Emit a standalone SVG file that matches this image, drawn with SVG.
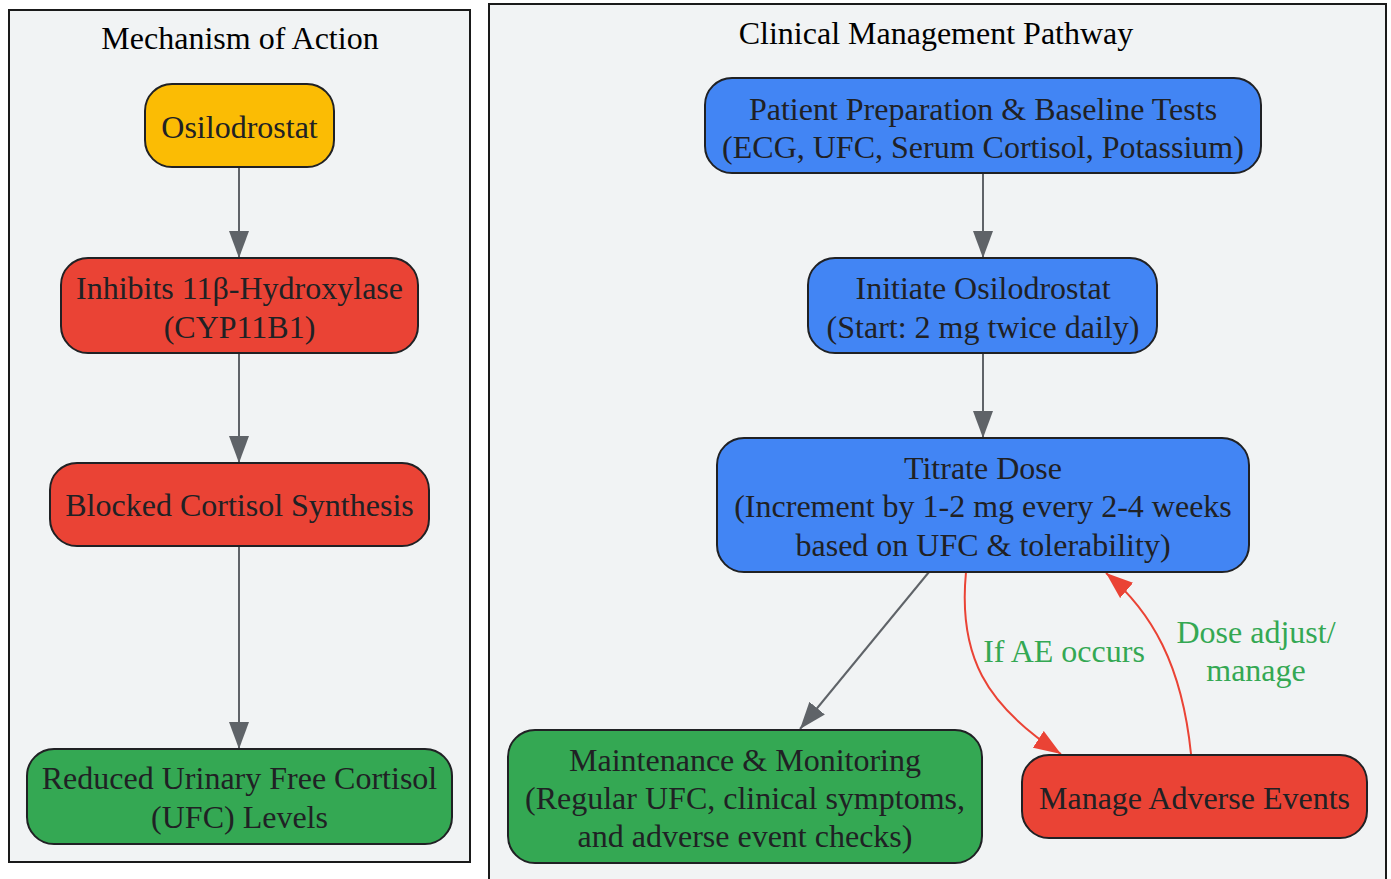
<svg xmlns="http://www.w3.org/2000/svg" width="1391" height="879" viewBox="0 0 1391 879">
<style>
text{font-family:"Liberation Serif","Times New Roman",serif;font-size:32px;text-anchor:middle}
.cl{fill:#f1f3f4;stroke:#1a1a1a;stroke-width:2}
.ttl{fill:#000}
.n{stroke:#202124;stroke-width:2}
.nt{fill:#202124}
.y{fill:#fbbc04}.r{fill:#ea4335}.b{fill:#4285f4}.g{fill:#34a853}
.e{fill:none;stroke:#5f6368;stroke-width:2}
.er{fill:none;stroke:#ea4335;stroke-width:2}
.lbl{fill:#34a853}
</style>
<defs>
<marker id="ag" markerUnits="userSpaceOnUse" markerWidth="27" markerHeight="20" refX="27" refY="10" orient="auto"><path d="M0,0 L27,10 L0,20 z" fill="#5f6368"/></marker>
<marker id="ar" markerUnits="userSpaceOnUse" markerWidth="27" markerHeight="20" refX="27" refY="10" orient="auto"><path d="M0,0 L27,10 L0,20 z" fill="#ea4335"/></marker>
</defs>
<rect width="1391" height="879" fill="#fff"/>
<g id="cluster-moa">
<rect class="cl" x="9" y="10" width="461" height="852"/>
<text class="ttl" x="240" y="49">Mechanism of Action</text>
</g>
<g id="cluster-clinical">
<rect class="cl" x="489" y="4" width="897" height="890"/>
<text class="ttl" x="936" y="44">Clinical Management Pathway</text>
</g>
<g id="connectors">
<path class="e" d="M239,167 L239,258" marker-end="url(#ag)"/>
<path class="e" d="M239,353 L239,463" marker-end="url(#ag)"/>
<path class="e" d="M239,546 L239,749" marker-end="url(#ag)"/>
<path class="e" d="M983,173 L983,258" marker-end="url(#ag)"/>
<path class="e" d="M983,353 L983,438" marker-end="url(#ag)"/>
<path class="e" d="M929,572 L800,729" marker-end="url(#ag)"/>
<path class="er" d="M966,572 C958,655 985,705 1061,754" marker-end="url(#ar)"/>
<path class="er" d="M1191,754 C1182,665 1152,612 1106,573" marker-end="url(#ar)"/>
<text class="lbl" x="1064" y="662">If AE occurs</text>
<text class="lbl" x="1256" y="643">Dose adjust/</text>
<text class="lbl" x="1256" y="681">manage</text>
</g>
<g id="node-osilodrostat">
<rect class="n y" x="145" y="84" width="189" height="83" rx="27"/>
<text class="nt" x="239.5" y="138">Osilodrostat</text>
</g>
<g id="node-inhibits">
<rect class="n r" x="61" y="258" width="357" height="95" rx="27"/>
<text class="nt" x="239.5" y="299">Inhibits 11β-Hydroxylase</text>
<text class="nt" x="239.5" y="338">(CYP11B1)</text>
</g>
<g id="node-blocked">
<rect class="n r" x="50" y="463" width="379" height="83" rx="27"/>
<text class="nt" x="239.5" y="516">Blocked Cortisol Synthesis</text>
</g>
<g id="node-reduced">
<rect class="n g" x="27" y="749" width="425" height="95" rx="27"/>
<text class="nt" x="239.5" y="789">Reduced Urinary Free Cortisol</text>
<text class="nt" x="239.5" y="828">(UFC) Levels</text>
</g>
<g id="node-prep">
<rect class="n b" x="705" y="78" width="556" height="95" rx="27"/>
<text class="nt" x="983" y="120">Patient Preparation &amp; Baseline Tests</text>
<text class="nt" x="983" y="158">(ECG, UFC, Serum Cortisol, Potassium)</text>
</g>
<g id="node-initiate">
<rect class="n b" x="808" y="258" width="349" height="95" rx="27"/>
<text class="nt" x="983" y="299">Initiate Osilodrostat</text>
<text class="nt" x="983" y="338">(Start: 2 mg twice daily)</text>
</g>
<g id="node-titrate">
<rect class="n b" x="717" y="438" width="532" height="134" rx="27"/>
<text class="nt" x="983" y="479">Titrate Dose</text>
<text class="nt" x="983" y="517">(Increment by 1-2 mg every 2-4 weeks</text>
<text class="nt" x="983" y="556">based on UFC &amp; tolerability)</text>
</g>
<g id="node-maintenance">
<rect class="n g" x="508" y="730" width="474" height="133" rx="27"/>
<text class="nt" x="745" y="771">Maintenance &amp; Monitoring</text>
<text class="nt" x="745" y="809">(Regular UFC, clinical symptoms,</text>
<text class="nt" x="745" y="847">and adverse event checks)</text>
</g>
<g id="node-ae">
<rect class="n r" x="1022" y="755" width="345" height="83" rx="27"/>
<text class="nt" x="1194.5" y="809">Manage Adverse Events</text>
</g>
</svg>
